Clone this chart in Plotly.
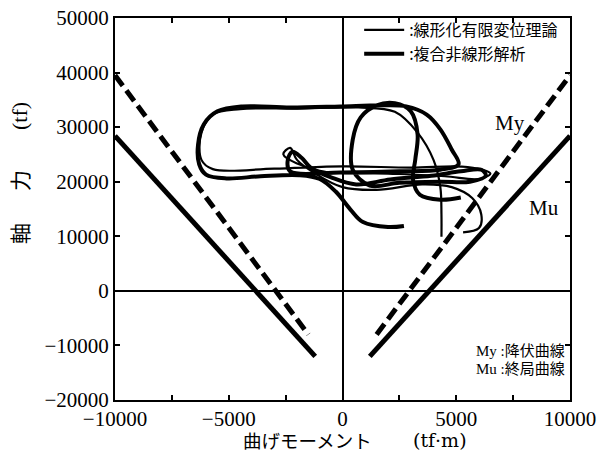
import plotly.graph_objects as go

# ---- data ----
# Yield (My) and ultimate (Mu) interaction curves: M (tf·m), N (tf)
my_left_M = [-10000, -1500]
my_left_N = [39500, -8000]
my_right_M = [1500, 10000]
my_right_N = [-8000, 39500]
mu_left_M = [-10000, -1200]
mu_left_N = [28400, -12000]
mu_right_M = [1200, 10000]
mu_right_N = [-12000, 28400]

# Combined nonlinear analysis (thick) trajectory
thick_M = [2700, 2000, 900, 350, -300, -1000, -1900, -3600, -5100, -6000, -6300, -6350,
           -6100, -5500, -4400, -2300, -100, 1700, 2800, 3700, 4300, 4800, 5100, 4300,
           2500, -100, -2300, -2400, -2200, -1800, -1400, -500, 600, 2100, 3900, 5200,
           6100, 6300, 5600, 4300, 2500, 1200, 450, 450, 800, 1500, 2300, 3000, 3300,
           3200, 3100, 3400, 4300, 5200]
thick_N = [11900, 11700, 12600, 14900, 18200, 20500, 21200, 21000, 20600, 21300, 23200, 26800,
           30500, 32900, 33800, 33600, 33800, 34000, 33800, 32300, 29600, 25900, 23200, 22200,
           21900, 21700, 21900, 24100, 25500, 24400, 22600, 20800, 19500, 20400, 21100, 21900,
           22200, 21100, 20000, 20000, 19800, 19300, 22200, 27700, 31800, 34000, 34400, 32900, 28700,
           24100, 20400, 17600, 16700, 17100]

# Linearized finite displacement theory (thin) trajectory
thin_M = [4350, 4350, 4300, 4000, 3300, 2300, 700, -2000, -4500, -5700, -6200, -6200,
          -5700, -3000, 0, 3000, 5500, 6500, 6000, 4500, 2000, -1000, -2600, -2300,
          -2000, -1200, 0, 1500, 3500, 4800, 5700, 6100, 6000, 5300]
thin_N = [9900, 14000, 19000, 24000, 29000, 32800, 33600, 33400, 33300, 32300, 29000, 24000,
          22300, 22400, 22800, 22600, 22700, 21500, 20500, 21000, 21500, 22000, 25000, 26200,
          24000, 21500, 19000, 18500, 19500, 19000, 17000, 14000, 11500, 10700]

x_ticks = [-10000, -5000, 0, 5000, 10000]
y_ticks = [-20000, -10000, 0, 10000, 20000, 30000, 40000, 50000]

serif = "Liberation Serif, Noto Sans CJK JP"
dserif = "DejaVu Serif, Noto Sans CJK JP"
cjk = "Noto Sans CJK JP"

fig = go.Figure()

for M, N in [(my_left_M, my_left_N), (my_right_M, my_right_N)]:
    fig.add_trace(go.Scatter(x=M, y=N, mode="lines", showlegend=False,
                             line=dict(color="black", width=5, dash="13px,6px")))
for M, N in [(mu_left_M, mu_left_N), (mu_right_M, mu_right_N)]:
    fig.add_trace(go.Scatter(x=M, y=N, mode="lines", showlegend=False,
                             line=dict(color="black", width=5)))

fig.add_trace(go.Scatter(x=thin_M, y=thin_N, mode="lines", name=":線形化有限変位理論",
                         line=dict(color="black", width=2.2, shape="spline", smoothing=1.0)))
fig.add_trace(go.Scatter(x=thick_M, y=thick_N, mode="lines", name=":複合非線形解析",
                         line=dict(color="black", width=4, shape="spline", smoothing=1.0)))

axis_common = dict(showgrid=False, showline=True, linecolor="black", linewidth=2,
                   mirror="ticks", ticks="inside", ticklen=5, tickwidth=1.5,
                   tickcolor="black", zeroline=True, zerolinecolor="black",
                   zerolinewidth=1.5, automargin=False,
                   tickfont=dict(family=serif, size=21, color="black"))

fig.update_xaxes(range=[-10000, 10000], tickvals=x_ticks,
                 ticktext=[str(v).replace("-", "−") for v in x_ticks],
                 ticklabelstandoff=-1,
                 minor=dict(dtick=2500, tick0=0, ticks="inside", ticklen=5,
                            tickwidth=1.5, tickcolor="black"),
                 **axis_common)
fig.update_yaxes(range=[-20000, 50000], tickvals=y_ticks,
                 ticktext=[str(v).replace("-", "−") for v in y_ticks],
                 **axis_common)

plot_l, plot_r, plot_t, plot_b = 115, 570, 18, 400
def px2paper(px, py):
    return (px - plot_l) / (plot_r - plot_l), (plot_b - py) / (plot_b - plot_t)

def ann(px, py, text, fam, size, xanchor="center", angle=0):
    fx, fy = px2paper(px, py)
    return dict(x=fx, y=fy, xref="paper", yref="paper", text=text, showarrow=False,
                xanchor=xanchor, yanchor="middle", textangle=angle,
                font=dict(family=fam, size=size, color="black"))

annotations = [
    dict(x=7350, y=30700, xref="x", yref="y", text="My", showarrow=False,
         xanchor="center", yanchor="middle",
         font=dict(family=serif, size=21, color="black")),
    dict(x=8850, y=15100, xref="x", yref="y", text="Mu", showarrow=False,
         xanchor="center", yanchor="middle",
         font=dict(family=serif, size=21, color="black")),
    ann(567, 351, "My :降伏曲線", serif, 15, xanchor="right"),
    ann(567, 369, "Mu :終局曲線", serif, 15, xanchor="right"),
    ann(19, 234, "軸", cjk, 21, angle=-90),
    ann(19, 181, "力", cjk, 21, angle=-90),
    ann(19, 116, "(tf)", serif, 22, angle=-90),
    ann(307, 440, "曲げモーメント", cjk, 18.5),
    ann(440, 440, "(tf·m)", dserif, 19),
]

fig.update_layout(
    width=598, height=452,
    margin=dict(l=115, r=28, t=18, b=52, autoexpand=False),
    paper_bgcolor="white", plot_bgcolor="white",
    annotations=annotations,
    legend=dict(x=0.985, y=1.013, xanchor="right", yanchor="top",
                bgcolor="rgba(0,0,0,0)", itemwidth=40, tracegroupgap=0,
                font=dict(family=cjk, size=16, color="black")),
)

fig.write_html("out.html")
